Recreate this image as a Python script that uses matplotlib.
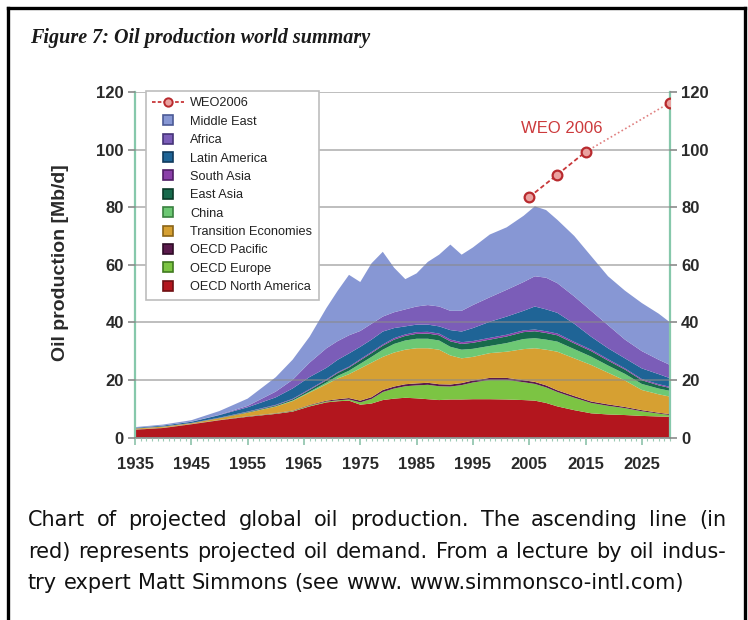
import matplotlib
matplotlib.use("Agg")
import matplotlib.pyplot as plt
from matplotlib.lines import Line2D
from matplotlib.ticker import MultipleLocator

# years
years = [1935, 1940, 1945, 1950, 1955, 1960, 1963, 1966, 1969, 1971, 1973, 1975,
         1977, 1979, 1981, 1983, 1985, 1987, 1989, 1991, 1993, 1995, 1998, 2001,
         2004, 2006, 2008, 2010, 2013, 2016, 2019, 2022, 2025, 2028, 2030]

# production by region [Mb/d], stacked bottom to top
oecd_north_america = [2.7, 3.3, 4.6, 6.0, 7.2, 8.2, 9.0, 10.8, 12.2, 12.6, 12.8, 11.4,
                      11.8, 13.0, 13.5, 13.8, 13.6, 13.3, 13.0, 13.2, 13.2, 13.3, 13.3, 13.2,
                      13.0, 12.8, 12.0, 10.8, 9.5, 8.4, 8.0, 7.8, 7.5, 7.3, 7.2]
oecd_europe = [0.05, 0.05, 0.05, 0.05, 0.1, 0.15, 0.2, 0.3, 0.3, 0.3, 0.4, 0.8,
               1.6, 2.8, 3.5, 4.0, 4.5, 5.0, 4.8, 4.5, 5.0, 5.8, 6.7, 6.8,
               6.2, 5.8, 5.4, 5.0, 4.3, 3.6, 3.0, 2.4, 1.6, 1.0, 0.6]
oecd_pacific = [0.05, 0.05, 0.05, 0.05, 0.1, 0.1, 0.15, 0.2, 0.3, 0.4, 0.5, 0.6,
                0.6, 0.7, 0.7, 0.7, 0.7, 0.7, 0.7, 0.7, 0.7, 0.7, 0.7, 0.7,
                0.7, 0.7, 0.7, 0.6, 0.6, 0.5, 0.5, 0.4, 0.4, 0.3, 0.3]
transition = [0.3, 0.35, 0.25, 0.6, 1.2, 2.3, 3.3, 4.3, 5.7, 7.2, 8.3, 11.2,
              12.0, 11.5, 11.8, 12.0, 12.2, 12.0, 12.0, 10.1, 8.6, 8.2, 8.6, 9.1,
              10.8, 11.7, 12.4, 13.4, 13.1, 12.7, 11.0, 9.2, 7.0, 6.4, 6.1]
china = [0.0, 0.0, 0.0, 0.0, 0.05, 0.1, 0.2, 0.3, 0.6, 0.9, 1.2, 1.6,
         2.0, 2.5, 3.0, 3.2, 3.3, 3.3, 3.2, 3.0, 3.0, 2.8, 2.5, 3.0,
         3.5, 3.5, 3.5, 3.5, 3.2, 2.9, 2.5, 2.3, 2.1, 2.0, 2.0]
east_asia = [0.05, 0.05, 0.05, 0.1, 0.2, 0.3, 0.4, 0.6, 0.8, 1.0, 1.1, 1.2,
             1.3, 1.4, 1.5, 1.6, 1.7, 1.8, 1.8, 1.9, 2.0, 2.1, 2.2, 2.3,
             2.4, 2.4, 2.3, 2.2, 2.0, 1.9, 1.7, 1.5, 1.3, 1.1, 1.0]
south_asia = [0.05, 0.05, 0.05, 0.1, 0.15, 0.2, 0.2, 0.3, 0.3, 0.3, 0.3, 0.4,
              0.4, 0.4, 0.5, 0.5, 0.6, 0.6, 0.6, 0.6, 0.6, 0.6, 0.6, 0.6,
              0.6, 0.6, 0.6, 0.6, 0.5, 0.5, 0.5, 0.4, 0.4, 0.4, 0.4]
latin_america = [0.2, 0.3, 0.4, 0.9, 1.5, 2.6, 3.6, 4.2, 4.0, 4.3, 4.6, 4.3,
                 4.3, 4.5, 3.5, 2.8, 2.6, 2.5, 2.5, 3.3, 3.7, 4.5, 5.6, 6.3,
                 6.8, 8.0, 7.6, 7.2, 6.3, 4.5, 3.8, 3.5, 3.7, 3.5, 3.0]
africa = [0.0, 0.0, 0.05, 0.1, 0.5, 2.0, 3.0, 5.0, 6.8, 6.5, 6.3, 5.5,
          5.5, 5.2, 5.5, 5.9, 6.3, 6.8, 6.9, 6.7, 7.2, 8.0, 8.5, 9.3,
          10.0, 10.5, 11.0, 10.3, 9.5, 9.0, 8.0, 6.5, 6.0, 5.0, 4.6]
middle_east = [0.2, 0.35, 0.5, 1.3, 2.5, 5.0, 7.0, 9.0, 14.0, 17.5, 21.0, 17.0,
               21.0, 22.5, 15.5, 10.5, 11.5, 15.0, 18.0, 23.0, 19.5, 20.0, 21.8, 21.7,
               23.0, 24.3, 23.5, 22.0, 21.0, 19.0, 17.0, 17.0, 16.7, 16.0, 14.8]

# WEO 2006 demand projection
weo_years = [2005, 2010, 2015, 2030]
weo_values = [83.5, 91.3, 99.2, 116.3]

regions = ["OECD North America", "OECD Europe", "OECD Pacific", "Transition Economies",
           "China", "East Asia", "South Asia", "Latin America", "Africa", "Middle East"]
colors = ["#b3161e", "#7cc443", "#5a1b4c", "#d6a032", "#6dc874",
          "#176a4c", "#8a3fa8", "#1f6496", "#7b5db8", "#8797d4"]
edges = ["#6e0f12", "#3f7a1e", "#2e0c26", "#8a6418", "#3a8040",
         "#0a3a28", "#501e66", "#0f3a5c", "#463478", "#4b5a96"]
series = [oecd_north_america, oecd_europe, oecd_pacific, transition, china,
          east_asia, south_asia, latin_america, africa, middle_east]

W, H = 748, 620
fig = plt.figure(figsize=(W / 100, H / 100), dpi=100)
ax = fig.add_axes([135 / W, 1 - 437.5 / H, 535 / W, 345.5 / H])

ax.stackplot(years, *series, colors=colors, linewidth=0)

# demand projection: dashed to 2015, dotted after
ax.plot(weo_years[:3], weo_values[:3], color="#c8383a", lw=1.3,
        linestyle=(0, (2.5, 1.5)), zorder=4)
ax.plot(weo_years[2:], weo_values[2:], color="#e08080", lw=1.2,
        linestyle=(0, (1, 1.5)), zorder=4)
ax.plot(weo_years, weo_values, linestyle="none", marker="o", markersize=7,
        markerfacecolor="#eaa2a0", markeredgecolor="#b82a2e",
        markeredgewidth=1.6, zorder=5)
ax.text(2010.8, 107.4, "WEO 2006", color="#cc3a3c", fontsize=12,
        family="Liberation Sans", ha="center", va="center")

ax.set_xlim(1935, 2030)
ax.set_ylim(0, 120)
ax.set_xticks(range(1935, 2030, 10))
ax.xaxis.set_minor_locator(MultipleLocator(1))
ax.set_yticks(range(0, 121, 20))

ax.yaxis.grid(True, color="#8a8a8a", lw=1.3, alpha=0.6)
ax.set_axisbelow(False)

ax.spines["top"].set_visible(False)
for side in ["left", "right"]:
    ax.spines[side].set_color("#86c8ab")
    ax.spines[side].set_linewidth(1.6)
ax.spines["bottom"].set_color("#8a8a8a")
ax.spines["bottom"].set_linewidth(1.2)

ax.tick_params(axis="y", which="both", left=True, right=True, labelleft=True,
               labelright=True, length=5, width=1.2, color="#8a8a8a",
               labelsize=12, pad=3, labelcolor="#2a2a2a")
ax.tick_params(axis="x", which="major", length=5, width=1.2, color="#8cc2aa",
               labelsize=12, pad=9, labelcolor="#2a2a2a")
ax.tick_params(axis="x", which="minor", length=2.5, width=0.8, color="#9ccbb6")
for lab in ax.get_xticklabels() + ax.get_yticklabels():
    lab.set_fontweight("bold")
    lab.set_family("Liberation Sans")

ax.set_ylabel("Oil production [Mb/d]", fontsize=14, fontweight="bold",
              family="Liberation Sans", color="#2a2a2a")
ax.yaxis.set_label_coords((69 - 135) / 535, (437.5 - 262.5) / 345.5)

handles = [Line2D([], [], color="#c8383a", lw=1.3, linestyle=(0, (2, 1.2)),
                  marker="o", markersize=6, markerfacecolor="#eaa2a0",
                  markeredgecolor="#b82a2e", markeredgewidth=1.4)]
labels = ["WEO2006"]
for name, c, e in reversed(list(zip(regions, colors, edges))):
    handles.append(Line2D([], [], linestyle="none", marker="s", markersize=7.5,
                          markerfacecolor=c, markeredgecolor=e, markeredgewidth=1.2))
    labels.append(name)

leg = ax.legend(handles, labels, loc="upper left", bbox_to_anchor=(0.02, 1.003),
                borderaxespad=0, handlelength=2.5, handletextpad=0.5,
                labelspacing=0.5, borderpad=0.5, fancybox=False, framealpha=1,
                edgecolor="#bdbdbd", prop={"family": "Liberation Sans", "size": 9.2})
leg.get_frame().set_linewidth(1.2)
for t in leg.get_texts():
    t.set_color("#222222")

fig.text(30 / W, 1 - 38 / H, "Figure 7: Oil production world summary",
         family="Liberation Serif", fontweight="bold", style="italic",
         fontsize=14.5, va="center", color="#1a1a1a")

# caption, justified like the source page
caption = [
    ("Chart of projected global oil production. The ascending line (in", True),
    ("red) represents projected oil demand. From a lecture by oil indus-", True),
    ("try expert Matt Simmons (see www. www.simmonsco-intl.com)", False),
]
baselines = [526, 558, 589]
x0, x1 = 28, 726
renderer = fig.canvas.get_renderer()
cap_kw = dict(fontsize=15, family="DejaVu Sans", color="#111111", va="baseline")
probe = fig.text(0, 0, "a a", **cap_kw)
probe2 = fig.text(0, 0, "aa", **cap_kw)
space_w = probe.get_window_extent(renderer).width - probe2.get_window_extent(renderer).width
probe.remove()
probe2.remove()
for (line, justify), yb in zip(caption, baselines):
    words = line.split(" ")
    arts = [fig.text(0, 1 - yb / H, w, **cap_kw) for w in words]
    widths = [a.get_window_extent(renderer).width for a in arts]
    gap = (x1 - x0 - sum(widths)) / (len(words) - 1) if justify else space_w
    x = x0
    for a, w in zip(arts, widths):
        a.set_x(x / W)
        x += w + gap

# black frame around the page excerpt
frame_kw = dict(color="black", lw=2.4, transform=fig.transFigure, solid_capstyle="projecting")
fig.add_artist(Line2D([8 / W, 8 / W], [0, 1 - 8 / H], **frame_kw))
fig.add_artist(Line2D([8 / W, 745 / W], [1 - 8 / H, 1 - 8 / H], **frame_kw))
fig.add_artist(Line2D([745 / W, 745 / W], [0, 1 - 8 / H], **frame_kw))

fig.savefig("out.png", dpi=100)
plt.close(fig)
